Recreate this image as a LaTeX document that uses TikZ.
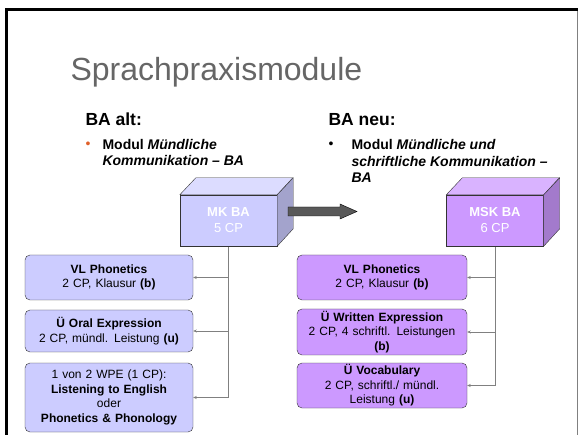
\documentclass[tikz,border=0pt]{standalone}
\usepackage{fontspec}
\setmainfont{Liberation Sans}
\usetikzlibrary{arrows.meta}
\pgfdeclarelayer{bg}
\pgfsetlayers{bg,main}
\definecolor{mkfront}{HTML}{CCCCFF}
\definecolor{mktop}{HTML}{DCDCFF}
\definecolor{mkside}{HTML}{A3A3CC}
\definecolor{mskfront}{HTML}{CC99FF}
\definecolor{msktop}{HTML}{D9B3FF}
\definecolor{mskside}{HTML}{A37ACC}
\definecolor{titlegray}{HTML}{666666}
\definecolor{bulletorange}{HTML}{E0602A}
\definecolor{shiftgray}{HTML}{595959}

\tikzset{
  modbox/.style={draw=black!80, rounded corners=5pt, align=center, inner xsep=4pt, inner ysep=0pt,
    font=\fontsize{12}{14.5}\selectfont},
  cubefront/.style={draw=black!80, minimum width=97pt, minimum height=51pt, inner sep=0pt,
    align=center, text=white, font=\fontsize{13}{16}\selectfont},
  conn/.style={draw=gray, line width=0.8pt, -{Stealth[length=3.5pt,width=3pt]}},
  heading/.style={anchor=base west, font=\fontsize{17.5}{21}\selectfont\bfseries},
  bullettext/.style={anchor=base west, align=left, font=\fontsize{14}{16.8}\selectfont\bfseries},
}

\begin{document}
\begin{tikzpicture}[x=1pt,y=-1pt]
  \useasboundingbox (0,0) rectangle (578,435);
  % slide frame
  \draw[gray, line width=1pt] (577,9.5) -- (577,435);
  \draw[black, line width=3pt] (6.5,435) -- (6.5,9.5) -- (578,9.5);

  \node [anchor=base west, text=titlegray, font=\fontsize{32}{38}\selectfont] (title) at (67,81) {Sprachpraxismodule};

  \node [heading] (alt) at (82,126) {BA alt:};
  \node [heading] (neu) at (325,126) {BA neu:};

  % base anchor sits on the last line
  \node [anchor=base west, text=bulletorange, font=\fontsize{14}{16}\selectfont] (altdot) at (82,149) {•};
  \node [bullettext] (alttext) at (99,166) {Modul \textit{Mündliche}\\\textit{Kommunikation – BA}};
  \node [anchor=base west, font=\fontsize{14}{16}\selectfont] (neudot) at (325,149) {•};
  \node [bullettext] (neutext) at (348,183) {Modul \textit{Mündliche und}\\\textit{schriftliche Kommunikation –}\\\textit{BA}};

  % cubes
  \node [cubefront, fill=mkfront] (mk) at (228.5,220.5) {\textbf{MK BA}\\5 CP};
  \draw [draw=black!80, fill=mktop] (mk.north west) -- ++(16,-17) -- ++(97,0) -- (mk.north east) -- cycle;
  \draw [draw=black!80, fill=mkside] (mk.north east) -- ++(16,-17) -- ++(0,51) -- (mk.south east) -- cycle;

  \node [cubefront, fill=mskfront] (msk) at (495,220.5) {\textbf{MSK BA}\\6 CP};
  \draw [draw=black!80, fill=msktop] (msk.north west) -- ++(16,-17) -- ++(97,0) -- (msk.north east) -- cycle;
  \draw [draw=black!80, fill=mskside] (msk.north east) -- ++(16,-17) -- ++(0,51) -- (msk.south east) -- cycle;

  % block arrow alt -> neu
  \draw [draw=black, fill=shiftgray] (288,207) -- (340,207) -- (340,204) -- (357,211.5)
    -- (340,219) -- (340,216) -- (288,216) -- cycle;

  % BA alt
  \node [modbox, fill=mkfront, text width=160pt, minimum height=45pt] (l1) at (109,277.5)
    {\textbf{VL Phonetics}\\2 CP, Klausur \textbf{(b)}};
  \node [modbox, fill=mkfront, text width=160pt, minimum height=42pt] (l2) at (109,331)
    {\textbf{Ü Oral Expression}\\2 CP, mündl. Leistung \textbf{(u)}};
  \node [modbox, fill=mkfront, text width=160pt, minimum height=69pt] (l3) at (109,397.5)
    {1 von 2 WPE (1 CP):\\\textbf{Listening to English}\\oder\\\textbf{Phonetics \& Phonology}};

  % BA neu
  \node [modbox, fill=mskfront, text width=162pt, minimum height=45pt] (r1) at (382,277.5)
    {\textbf{VL Phonetics}\\2 CP, Klausur \textbf{(b)}};
  \node [modbox, fill=mskfront, text width=162pt, minimum height=46pt] (r2) at (382,332)
    {\textbf{Ü Written Expression}\\2 CP, 4 schriftl. Leistungen\\\textbf{(b)}};
  \node [modbox, fill=mskfront, text width=162pt, minimum height=45pt] (r3) at (382,385.5)
    {\textbf{Ü Vocabulary}\\2 CP, schriftl./ mündl.\\Leistung \textbf{(u)}};

  \begin{pgfonlayer}{bg}
    \draw [conn] (mk.south) |- (l1.east);
    \draw [conn] (mk.south) |- (l2.east);
    \draw [conn] (mk.south) |- (l3.east);
    \draw [conn] (msk.south) |- (r1.east);
    \draw [conn] (msk.south) |- (r2.east);
    \draw [conn] (msk.south) |- (r3.east);
  \end{pgfonlayer}
\end{tikzpicture}
\end{document}
